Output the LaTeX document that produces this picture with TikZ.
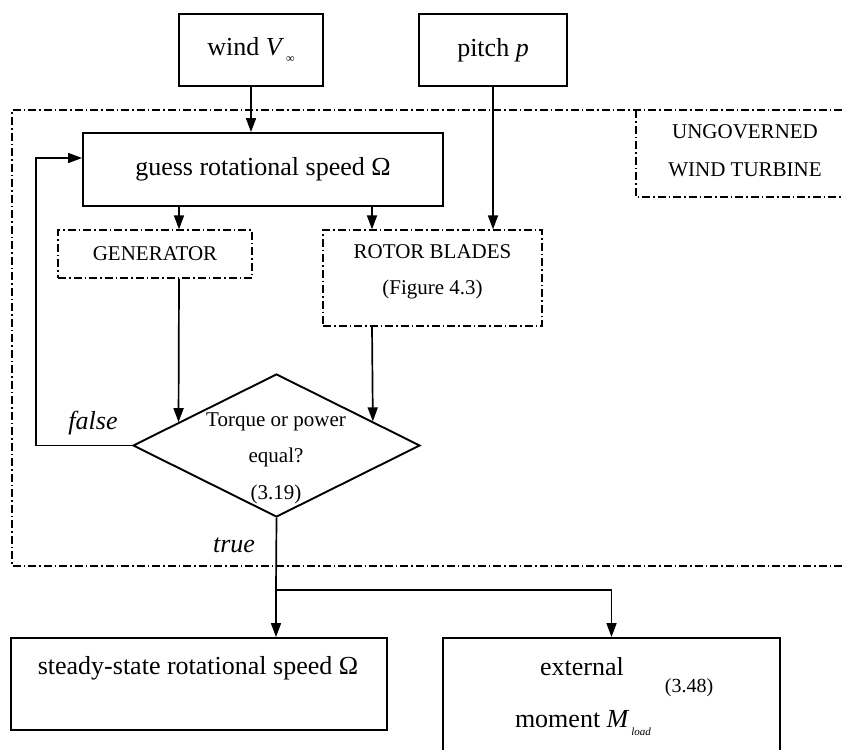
\documentclass[tikz,border=0pt]{standalone}
\usepackage{fontspec}
\setmainfont{Liberation Serif}
\usetikzlibrary{shapes.geometric,arrows.meta,calc}
\begin{document}
\begin{tikzpicture}[x=1pt,y=-1pt,
  box/.style={draw, line width=1.9pt, rectangle, inner sep=0pt},
  dashdot/.style={dash pattern=on 8pt off 3pt on 1.5pt off 3pt},
  ddbox/.style={draw, line width=1.3pt, dashdot, rectangle, inner sep=0pt},
  arr/.style={line width=1.7pt, -{Triangle[length=14pt,width=10pt]}},
  conn/.style={line width=1.7pt},
  big/.style={font=\fontsize{26}{30}\selectfont, inner sep=0pt},
  small/.style={font=\fontsize{21}{25}\selectfont, inner sep=0pt},
]
\useasboundingbox (0,0) rectangle (842,749);
% frames
\draw[dashdot, line width=1.3pt] (842,110) -- (12,110) -- (12,566) -- (842,566);
\draw[dashdot, line width=1.3pt] (636,110) -- (636,197) -- (842,197);
\node[small, align=center, font=\fontsize{21}{38}\selectfont] (ungt) at (745,151) {UNGOVERNED\\WIND TURBINE};
% inputs
\node[box, big, minimum width=144pt, minimum height=72pt] (wind) at (251,50)
  {wind \textit{V}\raisebox{-7pt}{\fontsize{12}{12}\selectfont\,∞}};
\node[box, big, minimum width=148pt, minimum height=72pt] (pitch) at (493,50) {pitch \textit{p}};
% guess
\node[box, big, minimum width=360pt, minimum height=73pt] (guess) at (263,169.5) {guess rotational speed Ω};
% generator / rotor
\node[ddbox, small, minimum width=194pt, minimum height=48pt] (gen) at (155,254) {GENERATOR};
\node[ddbox, minimum width=219pt, minimum height=96pt] (rotor) at (432.5,278) {};
\node[small, align=center, font=\fontsize{21}{36}\selectfont] (rotort) at (432.5,272) {ROTOR BLADES\\(Figure 4.3)};
% decision
\node[draw, diamond, line width=1.9pt, minimum width=287pt, minimum height=143pt, inner sep=0pt] (dia) at (276.5,445.5) {};
\node[small, align=center, font=\fontsize{21}{36.5}\selectfont] (diat) at (276,458) {Torque or power\\equal?\\(3.19)};
\node[big, font=\fontsize{26}{30}\selectfont\itshape] (falsel) at (93,423) {false};
\node[big, font=\fontsize{26}{30}\selectfont\itshape] (truel) at (234,545) {true};
% outputs
\node[box, minimum width=376pt, minimum height=92pt] (ss) at (199,684) {};
\node[big] (sst) at (198,668) {steady-state rotational speed Ω};
\node[box, minimum width=337pt, minimum height=132pt] (ext) at (611.5,704) {};
\node[big] (extt1) at (582,667) {external};
\node[big, anchor=base] (extt2) at (583,727) {moment \textit{M}\raisebox{-8pt}{\fontsize{11}{11}\selectfont\,\textit{load}}};
\node[small, font=\fontsize{20}{24}\selectfont] (extt3) at (689,688) {(3.48)};
% helper coordinates
\coordinate (xg) at (179,0);
\coordinate (xr) at (372,0);
\coordinate (fb) at (36,158);
\coordinate (j) at (276,590);
% connectors
\draw[arr] (wind.south) -- (wind.south |- guess.north);
\draw[arr] (pitch.south) -- (pitch.south |- rotor.north);
\draw[arr] (guess.south -| xg) -- (gen.north -| xg);
\draw[arr] (guess.south -| xr) -- (rotor.north -| xr);
\draw[arr] (gen.south -| xg) -- ($(dia.west)!0.3217!(dia.north)$);
\draw[arr] (rotor.south -| xr) -- ($(dia.north)!0.667!(dia.east)$);
\draw[arr] (dia.west) -| (fb) -- (fb -| guess.west);
\draw[conn] (dia.south) -- (j);
\draw[arr] (j) -- (j |- ss.north);
\draw[arr] (j) -| (ext.north);
\end{tikzpicture}
\end{document}
